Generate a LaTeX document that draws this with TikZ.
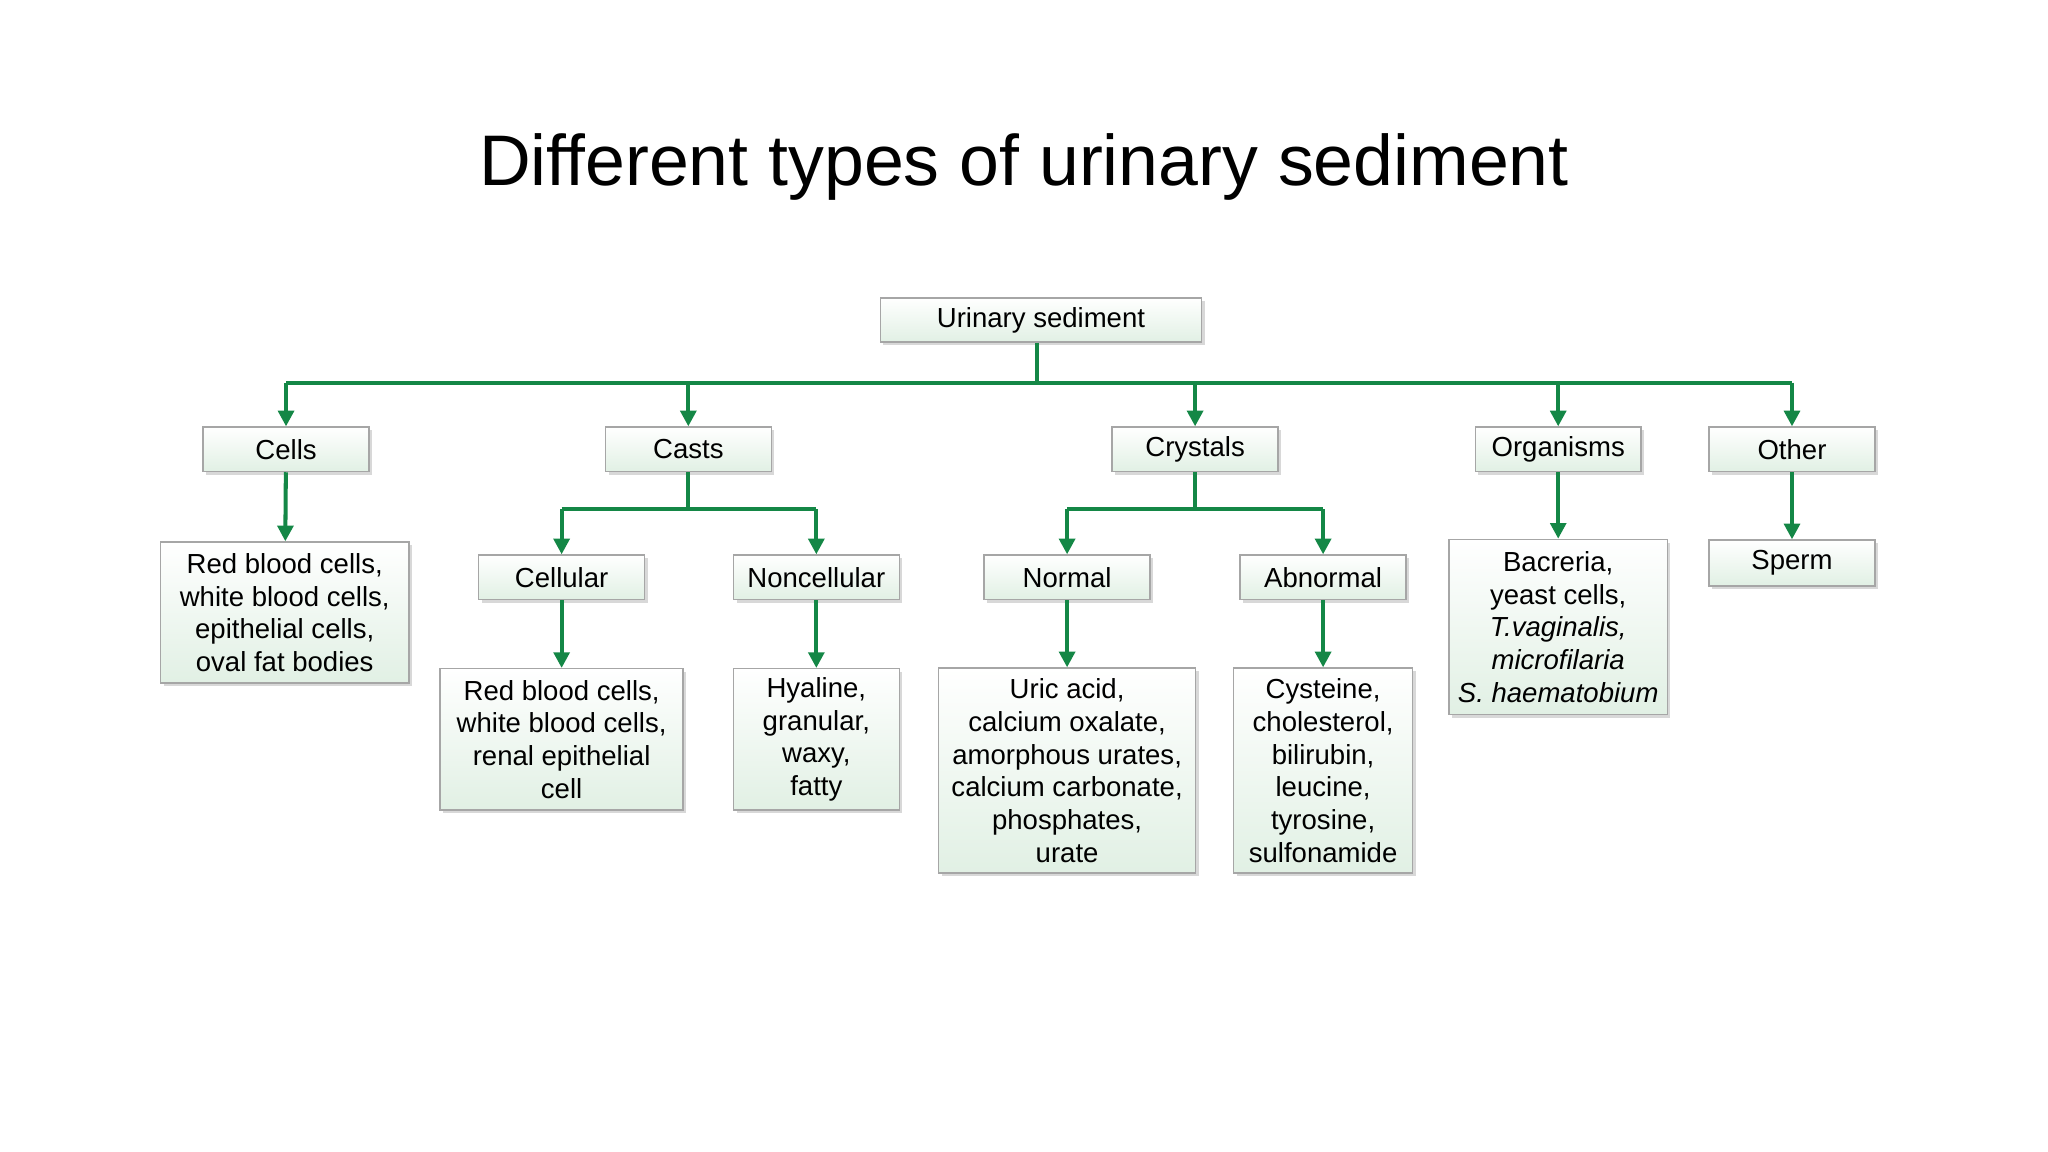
\documentclass[tikz,border=0pt]{standalone}
\usepackage{fontspec}
\setmainfont{Liberation Sans}
\usetikzlibrary{shadows,arrows.meta}
\definecolor{lg}{RGB}{20,135,70}
\definecolor{bx}{RGB}{225,240,228}
\tikzset{
 bx/.style={draw=gray!70,line width=0.8pt,top color=white,bottom color=bx,
   drop shadow={shadow xshift=0.06cm,shadow yshift=-0.06cm,fill=gray!60},
   inner sep=0pt,align=center,font=\fontsize{15}{17.8}\selectfont},
 ln/.style={draw=lg,line width=2.2pt},
 ar/.style={ln,-{Triangle[length=0.3cm,width=0.3cm]}}
}
\begin{document}
\begin{tikzpicture}[x=0.025cm,y=-0.025cm]
\useasboundingbox (0,0) rectangle (1568,882);
\node[font=\fontsize{39}{44}\selectfont] (title) at (784,128) {Different types of urinary sediment};
\newcommand{\bb}[6]{\node[bx,minimum width=#3*0.025cm,minimum height=#4*0.025cm] (#1) at (#2) {#5};}
\bb{root}{797,245}{246}{34}{Urinary sediment}{}
\bb{cells}{219,344}{127}{34}{Cells}{}
\bb{casts}{527,344}{127}{34}{Casts}{}
\bb{cryst}{915,344}{127}{34}{Crystals}{}
\bb{org}{1193,344}{127}{34}{Organisms}{}
\bb{oth}{1372,344}{127}{34}{Other}{}
\bb{cellsc}{218,469}{190}{108}{Red blood cells,\\white blood cells,\\epithelial cells,\\oval fat bodies}{}
\bb{cel}{430,442}{127}{34}{Cellular}{}
\bb{non}{625,442}{127}{34}{Noncellular}{}
\bb{celc}{430,566}{186}{108}{Red blood cells,\\white blood cells,\\renal epithelial\\cell}{}
\bb{nonc}{625,566}{127}{108}{Hyaline,\\granular,\\waxy,\\fatty}{}
\bb{nor}{817,442}{127}{34}{Normal}{}
\bb{abn}{1013,442}{127}{34}{Abnormal}{}
\bb{norc}{817,590}{197}{157}{Uric acid,\\calcium oxalate,\\amorphous urates,\\calcium carbonate,\\phosphates,\\urate}{}
\bb{abnc}{1013,590}{137}{157}{Cysteine,\\cholesterol,\\bilirubin,\\leucine,\\tyrosine,\\sulfonamide}{}
\bb{orgc}{1193,480}{167}{134}{Bacreria,\\yeast cells,\\\textit{T.vaginalis,}\\\textit{microfilaria}\\\textit{S. haematobium}}{}
\bb{sperm}{1372,431}{127}{35}{Sperm}{}
\coordinate (h) at (794,293);
\draw[ln] (root.south -| h) -- (h);
\draw[ln] (cells.north |- h) -- (oth.north |- h);
\foreach \n in {cells,casts,cryst,org,oth} \draw[ar] (\n.north |- h) -- (\n.north);
\draw[ar] (cells) -- (cellsc);
\draw[ar] (org) -- (orgc);
\draw[ar] (oth) -- (sperm);
\coordinate (h2) at (527,390);
\draw[ln] (casts.south) -- (h2);
\draw[ln] (cel.north |- h2) -- (non.north |- h2);
\draw[ar] (cel.north |- h2) -- (cel.north);
\draw[ar] (non.north |- h2) -- (non.north);
\coordinate (h3) at (915,390);
\draw[ln] (cryst.south) -- (h3);
\draw[ln] (nor.north |- h3) -- (abn.north |- h3);
\draw[ar] (nor.north |- h3) -- (nor.north);
\draw[ar] (abn.north |- h3) -- (abn.north);
\draw[ar] (cel) -- (celc);
\draw[ar] (non) -- (nonc);
\draw[ar] (nor) -- (norc);
\draw[ar] (abn) -- (abnc);
\end{tikzpicture}
\end{document}
